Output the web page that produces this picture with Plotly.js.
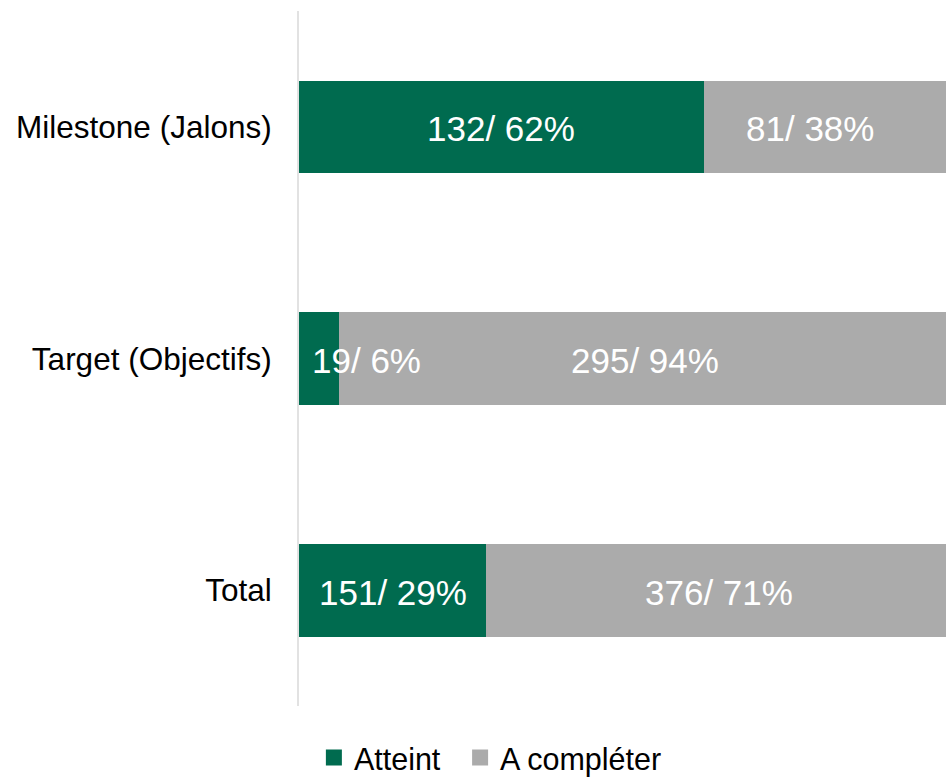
<!DOCTYPE html>
<html>
<head>
<meta charset="utf-8">
<script src="https://cdn.plot.ly/plotly-3.0.1.min.js"></script>
<style>html,body{margin:0;padding:0;background:#fff;}#chart{width:946px;height:778px;}</style>
</head>
<body>
<div id="chart"></div>
<script>
const categories = ['Milestone (Jalons)', 'Target (Objectifs)', 'Total'];
const atteint = [132, 19, 151];
const aCompleter = [81, 295, 376];
const seriesNames = ['Atteint', 'A compléter'];

const totals = categories.map((c, i) => atteint[i] + aCompleter[i]);
const shareA = atteint.map((v, i) => v / totals[i]);
const shareC = aCompleter.map((v, i) => v / totals[i]);

const GREEN = '#006b4f';
const GRAY = '#ababab';
const FONT = 'Arial, "Liberation Sans", sans-serif';

const traces = [
  {type: 'bar', orientation: 'h', name: seriesNames[0], y: categories, x: shareA,
   marker: {color: GREEN}, hoverinfo: 'skip', showlegend: false},
  {type: 'bar', orientation: 'h', name: seriesNames[1], y: categories, x: shareC,
   marker: {color: GRAY}, hoverinfo: 'skip', showlegend: false},
  {type: 'scatter', mode: 'markers', name: seriesNames[0], x: [null], y: [null], legend: 'legend',
   marker: {symbol: 'square', size: 16, color: GREEN}, hoverinfo: 'skip'},
  {type: 'scatter', mode: 'markers', name: seriesNames[1], x: [null], y: [null], legend: 'legend2',
   marker: {symbol: 'square', size: 16, color: GRAY}, hoverinfo: 'skip'}
];

const annotations = [];
categories.forEach((c, i) => {
  const pa = Math.round(shareA[i] * 100);
  const pc = Math.round(shareC[i] * 100);
  const narrow = shareA[i] < 0.1;
  annotations.push({
    xref: 'x', yref: 'y', x: narrow ? 0 : shareA[i] / 2, y: c,
    xanchor: narrow ? 'left' : 'center', xshift: narrow ? 11 : 0, yshift: -2,
    text: atteint[i] + '/ ' + pa + '%', showarrow: false,
    font: {family: FONT, size: 35, color: '#ffffff'}
  });
  annotations.push({
    xref: 'x', yref: 'y', x: shareA[i] + shareC[i] / 2, y: c,
    xanchor: 'center', xshift: i === 0 ? -18 : 0, yshift: -2,
    text: aCompleter[i] + '/ ' + pc + '%', showarrow: false,
    font: {family: FONT, size: 35, color: '#ffffff'}
  });
});

const legendBase = {orientation: 'h', xanchor: 'left', yref: 'container', y: 0.026, yanchor: 'middle',
  font: {family: FONT, size: 30.5, color: '#000000'}, bgcolor: 'rgba(0,0,0,0)'};

const layout = {
  width: 946, height: 778,
  margin: {l: 299, r: 0, t: 11, b: 72, pad: 0, autoexpand: false},
  paper_bgcolor: '#ffffff', plot_bgcolor: '#ffffff',
  barmode: 'stack', bargap: 0.6,
  font: {family: FONT, color: '#000000'},
  xaxis: {range: [0, 0.991], visible: false, fixedrange: true},
  yaxis: {autorange: 'reversed', type: 'category', showline: true, linecolor: '#e2e2e2', linewidth: 2,
          showgrid: false, zeroline: false, ticks: '', ticklabelstandoff: 19,
          tickfont: {family: FONT, size: 31.5, color: '#000000'}},
  showlegend: true,
  legend: Object.assign({}, legendBase, {x: 0.023}),
  legend2: Object.assign({}, legendBase, {x: 0.249}),
  annotations: annotations
};

Plotly.newPlot('chart', traces, layout, {displayModeBar: false, staticPlot: true});
</script>
</body>
</html>
